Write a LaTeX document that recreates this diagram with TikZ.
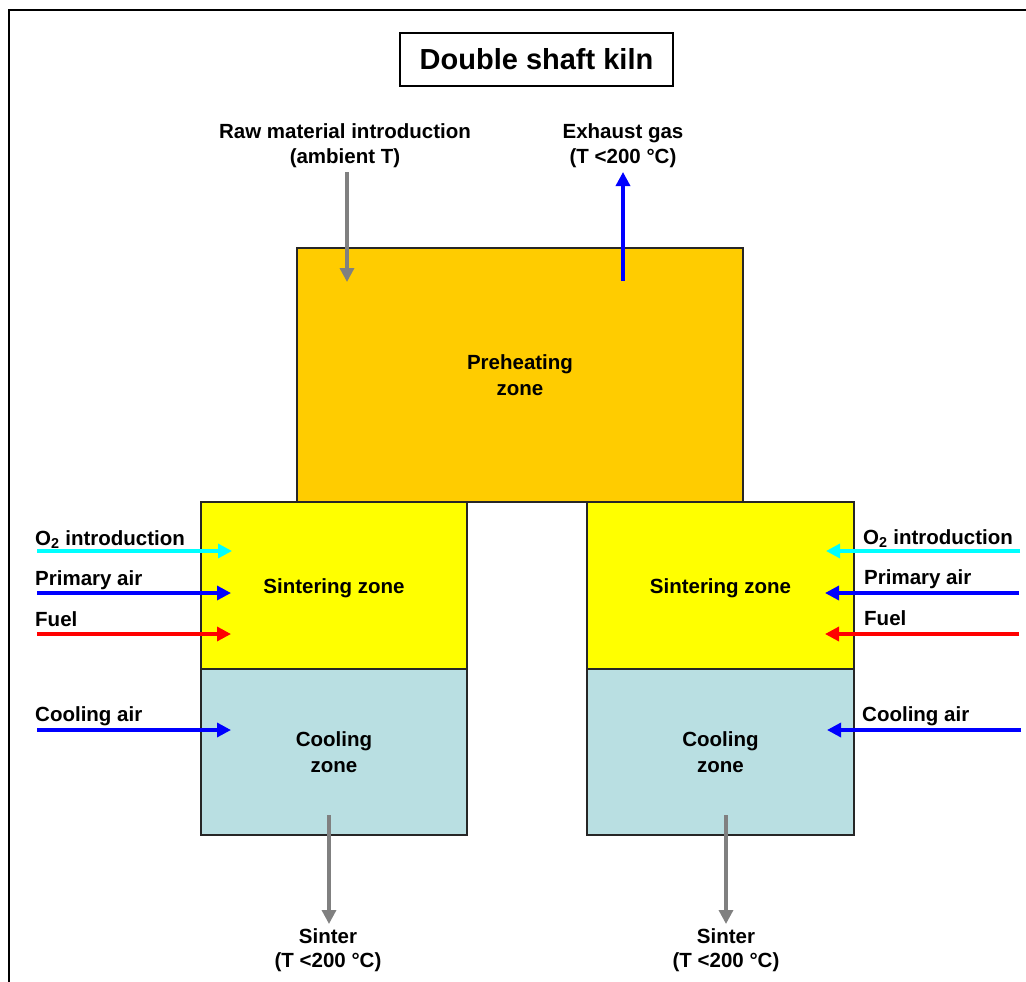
\documentclass[tikz,border=0pt]{standalone}
\usepackage{fontspec}
\setmainfont{Liberation Sans}
\usetikzlibrary{arrows.meta}
\definecolor{preheat}{RGB}{255,204,0}
\definecolor{sinter}{RGB}{255,255,0}
\definecolor{cool}{RGB}{185,223,226}
\definecolor{grayarrow}{RGB}{128,128,128}
\definecolor{cyanarrow}{RGB}{0,255,255}
\definecolor{bluearrow}{RGB}{0,0,255}
\definecolor{redarrow}{RGB}{255,0,0}
\begin{document}
\begin{tikzpicture}[x=1pt,y=-1pt,
  zone/.style={draw=black!85,line width=1.8pt,align=center,inner sep=0pt,
    font=\fontsize{20.5}{26}\selectfont\bfseries},
  lbl/.style={inner sep=0pt,font=\fontsize{20.5}{26}\selectfont\bfseries},
  flow/.style={line width=3.3pt,-{Triangle[length=14pt,width=14pt]}},
]
\useasboundingbox (0,0) rectangle (1026,982);
% outer frame (partly cut off)
\draw[line width=2pt] (9,990) -- (9,10) -- (1035,10);
% title
\node[draw=black,line width=1.5pt,minimum width=273pt,minimum height=53pt,inner sep=0pt,
  font=\fontsize{29}{33}\selectfont\bfseries] (title) at (536.5,59.5) {Double shaft kiln};
% zones
\node[zone,fill=preheat,minimum width=446pt,minimum height=254pt] (pre) at (520,375) {Preheating\\zone};
\node[zone,fill=sinter,minimum width=266pt,minimum height=167pt] (sinL) at (334,585.5) {\raisebox{-8pt}[0pt][0pt]{Sintering zone}};
\node[zone,fill=cool,minimum width=266pt,minimum height=166pt] (coolL) at (334,752) {Cooling\\zone};
\node[zone,fill=sinter,minimum width=267pt,minimum height=167pt] (sinR) at (720.5,585.5) {\raisebox{-8pt}[0pt][0pt]{Sintering zone}};
\node[zone,fill=cool,minimum width=267pt,minimum height=166pt] (coolR) at (720.5,752) {Cooling\\zone};
% top labels
\node[lbl,anchor=base] (raw1) at (345,138) {Raw material introduction};
\node[lbl,anchor=base] (raw2) at (345,163) {(ambient T)};
\node[lbl,anchor=base] (exh1) at (623,138) {Exhaust gas};
\node[lbl,anchor=base] (exh2) at (623,163) {(T <200 °C)};
% bottom labels
\node[lbl,anchor=base] (snL1) at (328,943) {Sinter};
\node[lbl,anchor=base] (snL2) at (328,967) {(T <200 °C)};
\node[lbl,anchor=base] (snR1) at (726,943) {Sinter};
\node[lbl,anchor=base] (snR2) at (726,967) {(T <200 °C)};
% left labels
\node[lbl,anchor=base west] (o2L) at (35,545) {O\textsubscript{2} introduction};
\node[lbl,anchor=base west] (paL) at (35,585) {Primary air};
\node[lbl,anchor=base west] (fuL) at (35,626) {Fuel};
\node[lbl,anchor=base west] (caL) at (35,721) {Cooling air};
% right labels
\node[lbl,anchor=base west] (o2R) at (863,544) {O\textsubscript{2} introduction};
\node[lbl,anchor=base west] (paR) at (864,584) {Primary air};
\node[lbl,anchor=base west] (fuR) at (864,625) {Fuel};
\node[lbl,anchor=base west] (caR) at (862,721) {Cooling air};
% coordinates
\coordinate (rawS) at (347,172); \coordinate (rawE) at (347,282);
\coordinate (exS) at (623,281); \coordinate (exE) at (623,172);
\coordinate (sLS) at (329,815); \coordinate (sLE) at (329,924);
\coordinate (sRS) at (726,815); \coordinate (sRE) at (726,924);
\coordinate (o2LS) at (37,551); \coordinate (o2LE) at (232,551);
\coordinate (paLS) at (37,593); \coordinate (paLE) at (231,593);
\coordinate (fuLS) at (37,634); \coordinate (fuLE) at (231,634);
\coordinate (caLS) at (37,730); \coordinate (caLE) at (231,730);
\coordinate (o2RS) at (1020,551); \coordinate (o2RE) at (826,551);
\coordinate (paRS) at (1019,593); \coordinate (paRE) at (825,593);
\coordinate (fuRS) at (1019,634); \coordinate (fuRE) at (825,634);
\coordinate (caRS) at (1021,730); \coordinate (caRE) at (827,730);
% arrows
\draw[flow,grayarrow] (rawS) -- (rawE);
\draw[flow,bluearrow] (exS) -- (exE);
\draw[flow,grayarrow] (sLS) -- (sLE);
\draw[flow,grayarrow] (sRS) -- (sRE);
\draw[flow,cyanarrow] (o2LS) -- (o2LE);
\draw[flow,bluearrow] (paLS) -- (paLE);
\draw[flow,redarrow] (fuLS) -- (fuLE);
\draw[flow,bluearrow] (caLS) -- (caLE);
\draw[flow,cyanarrow] (o2RS) -- (o2RE);
\draw[flow,bluearrow] (paRS) -- (paRE);
\draw[flow,redarrow] (fuRS) -- (fuRE);
\draw[flow,bluearrow] (caRS) -- (caRE);
\end{tikzpicture}
\end{document}
